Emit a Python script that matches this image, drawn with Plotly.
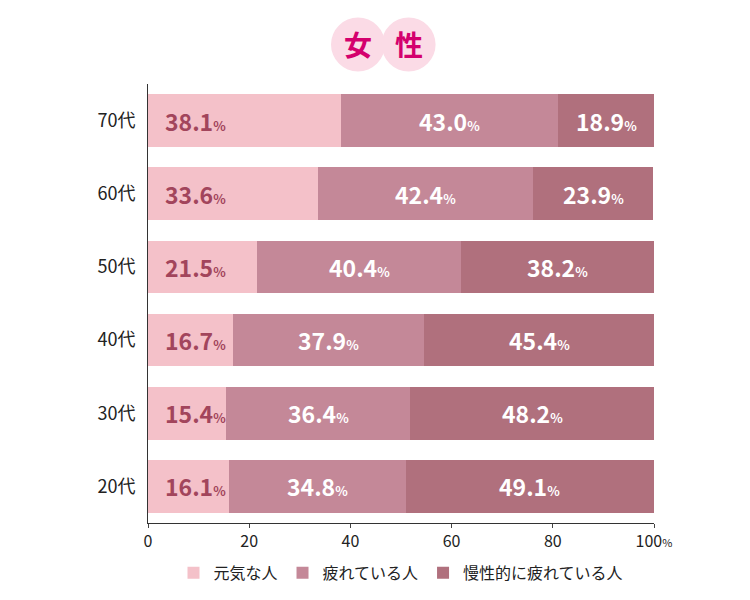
import plotly.graph_objects as go

ages = ["20代", "30代", "40代", "50代", "60代", "70代"]
genki = [16.1, 15.4, 16.7, 21.5, 33.6, 38.1]
tsukare = [34.8, 36.4, 37.9, 40.4, 42.4, 43.0]
mansei = [49.1, 48.2, 45.4, 38.2, 23.9, 18.9]
names = ["元気な人", "疲れている人", "慢性的に疲れている人"]
colors = ["#f4c1c9", "#c48898", "#b0707d"]
series = [genki, tsukare, mansei]

fig = go.Figure()
for name, vals, col in zip(names, series, colors):
    fig.add_trace(go.Bar(y=ages, x=vals, name=name, orientation="h",
                         marker=dict(color=col, line=dict(width=0)),
                         width=0.72, hoverinfo="skip"))

def lab(v):
    return f"<b>{v:.1f}</b><span style='font-size:13px'><b>%</b></span>"

ann = []
for i, a in enumerate(ages):
    ann.append(dict(x=3, y=a, text=lab(genki[i]), xanchor="left", showarrow=False,
                    font=dict(size=23, color="#a2455c")))
    ann.append(dict(x=genki[i] + tsukare[i] / 2, y=a, text=lab(tsukare[i]), showarrow=False,
                    font=dict(size=23, color="white")))
    ann.append(dict(x=genki[i] + tsukare[i] + mansei[i] / 2, y=a, text=lab(mansei[i]),
                    showarrow=False, font=dict(size=23, color="white")))

shapes = []
ty = 1.09
for cx, ch in [(41.5, "女"), (51.5, "性")]:
    shapes.append(dict(type="circle", xref="x", yref="paper", xsizemode="pixel", ysizemode="pixel",
                       xanchor=cx, yanchor=ty, x0=-27, x1=27, y0=-27, y1=27,
                       fillcolor="#fbdbe6", line=dict(width=0), layer="below"))
    ann.append(dict(x=cx, y=ty, xref="x", yref="paper", text=f"<b>{ch}</b>", showarrow=False,
                    xanchor="center", yanchor="middle",
                    font=dict(size=28, color="#d4006d")))

fig.update_layout(
    barmode="stack", width=750, height=600, plot_bgcolor="white", paper_bgcolor="white",
    margin=dict(l=140, r=104, t=76, b=85),
    font=dict(family="Noto Sans CJK JP", color="#222"),
    annotations=ann, shapes=shapes, bargap=0.28,
    xaxis=dict(range=[0, 100], tickvals=[0, 20, 40, 60, 80, 100],
               ticktext=["0", "20", "40", "60", "80", "100<span style='font-size:11px'>%</span>"],
               showgrid=False, showline=True, linecolor="#333", ticks="outside", ticklen=4,
               tickfont=dict(size=16), zeroline=False),
    yaxis=dict(showgrid=False, showline=True, linecolor="#333", tickfont=dict(size=18),
               ticks="", ticklabelstandoff=8),
    legend=dict(orientation="h", x=0.5, xanchor="center", y=-0.075, yanchor="top",
                font=dict(size=16), traceorder="normal"),
)
fig.write_html("out.html")
